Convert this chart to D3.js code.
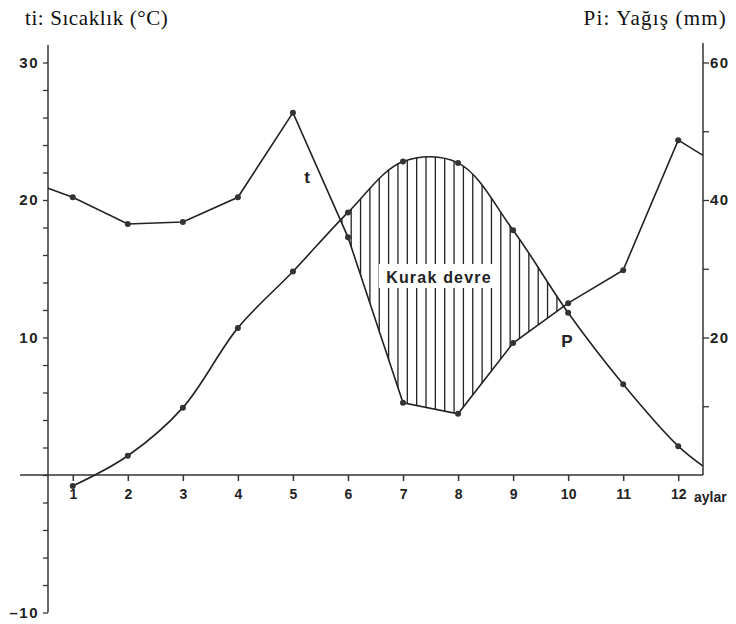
<!DOCTYPE html>
<html>
<head>
<meta charset="utf-8">
<script src="https://cdn.jsdelivr.net/npm/d3@7"></script>
<style>
  body { margin: 0; background: #fff; }
  svg { display: block; }
  .tick text { font-family: "Liberation Sans", Arial, sans-serif; fill: #222; font-weight: bold; }
  .domain, .tick line { stroke: #333; }
</style>
</head>
<body>
<svg width="736" height="624"></svg>
<script>
// months and edges of the plot (in month units)
const months = [1, 2, 3, 4, 5, 6, 7, 8, 9, 10, 11, 12];
const monthEdges = [0.55, 12.45];

// temperature, °C (smooth curve)
const tempC = [-0.8, 1.4, 4.9, 10.7, 14.8, 19.1, 22.8, 22.7, 17.8, 11.8, 6.6, 2.1];
const tempEndC = 0.65;

// precipitation, mm (broken line)
const rainMm = [40.4, 36.5, 36.8, 40.4, 52.7, 34.6, 10.5, 8.9, 19.2, 25.0, 29.8, 48.7];
const rainEdgesMm = [41.7, 46.5];

const leftTicks = [-10, -8, -6, -4, -2, 0, 2, 4, 6, 8, 10, 12, 14, 16, 18, 20, 22, 24, 26, 28, 30];
const leftLabels = [-10, 10, 20, 30];
const rightTicks = [10, 20, 30, 40, 50, 60];
const rightLabels = [20, 40, 60];

const svg = d3.select('svg');

const x = d3.scaleLinear().domain(monthEdges).range([48, 703]);
const yT = d3.scaleLinear().domain([-10, 30]).range([612.5, 62.5]);
const yP = d3.scaleLinear().domain([-20, 60]).range([612.5, 62.5]);

const tempPts = months.map((m, i) => [m, tempC[i]]).concat([[monthEdges[1], tempEndC]]);
const rainPts = [[monthEdges[0], rainEdgesMm[0]]]
  .concat(months.map((m, i) => [m, rainMm[i]]))
  .concat([[monthEdges[1], rainEdgesMm[1]]]);

// axes
svg.append('line')
  .attr('x1', 20).attr('x2', x(monthEdges[1]))
  .attr('y1', yT(0)).attr('y2', yT(0))
  .attr('stroke', '#333').attr('stroke-width', 1.5);

const xAxis = svg.append('g')
  .attr('transform', `translate(0,${yT(0)})`)
  .call(d3.axisBottom(x).tickValues(months).tickSize(6).tickPadding(8).tickFormat(d3.format('d')));
xAxis.select('.domain').remove();
xAxis.selectAll('.tick text').attr('font-size', 14);
xAxis.selectAll('.tick line').attr('stroke-width', 1.5);

svg.append('text')
  .attr('x', 694).attr('y', yT(0) + 27)
  .attr('font-family', '"Liberation Sans", Arial, sans-serif')
  .attr('font-size', 14).attr('font-weight', 'bold').attr('fill', '#222')
  .text('aylar');

const leftAxis = svg.append('g')
  .attr('transform', `translate(${x(monthEdges[0])},0)`)
  .call(d3.axisLeft(yT).tickValues(leftTicks).tickSize(5).tickSizeOuter(0)
    .tickFormat(d => leftLabels.includes(d) ? (d < 0 ? '\u2013' + (-d) : d) : ''));
leftAxis.select('.domain').attr('d', `M0,45V${yT(-10)}`).attr('stroke-width', 1.5);
leftAxis.selectAll('.tick text').attr('font-size', 15).attr('letter-spacing', 1.5).attr('dx', -1);
leftAxis.selectAll('.tick line').attr('stroke-width', 1.3);

const rightAxis = svg.append('g')
  .attr('transform', `translate(${x(monthEdges[1])},0)`)
  .call(d3.axisRight(yP).tickValues(rightTicks).tickSize(6).tickSizeOuter(0)
    .tickFormat(d => rightLabels.includes(d) ? d : ''));
rightAxis.select('.domain').attr('d', `M0,43V${yP(0)}`).attr('stroke-width', 1.5);
rightAxis.selectAll('.tick text').attr('font-size', 15).attr('letter-spacing', 1.5).attr('dx', -2);
rightAxis.selectAll('.tick line').attr('stroke-width', 1.3);

// hatched dry period: above the rain line, below the temperature line
const defs = svg.append('defs');
const tempCurve = d3.curveCatmullRom.alpha(0.5);

defs.append('clipPath').attr('id', 'belowTemp')
  .append('path')
  .attr('d', d3.area().curve(tempCurve).x(d => x(d[0])).y0(d => yT(d[1])).y1(700)(tempPts));
defs.append('clipPath').attr('id', 'aboveRain')
  .append('path')
  .attr('d', d3.area().x(d => x(d[0])).y0(0).y1(d => yP(d[1]))(rainPts));

const hatch = svg.append('g').attr('clip-path', 'url(#belowTemp)')
  .append('g').attr('clip-path', 'url(#aboveRain)');
hatch.selectAll('line')
  .data(d3.range(x(monthEdges[0]) + 4, x(monthEdges[1]), 9.35))
  .join('line')
  .attr('x1', d => d).attr('x2', d => d)
  .attr('y1', 40).attr('y2', 480)
  .attr('stroke', '#222').attr('stroke-width', 1.3);

// curves
svg.append('path')
  .attr('d', d3.line().x(d => x(d[0])).y(d => yP(d[1]))(rainPts))
  .attr('fill', 'none').attr('stroke', '#222').attr('stroke-width', 1.6);

svg.append('path')
  .attr('d', d3.line().curve(tempCurve).x(d => x(d[0])).y(d => yT(d[1]))(tempPts))
  .attr('fill', 'none').attr('stroke', '#222').attr('stroke-width', 1.6);

svg.append('g').selectAll('circle')
  .data(months.map((m, i) => [m, rainMm[i]]))
  .join('circle')
  .attr('cx', d => x(d[0])).attr('cy', d => yP(d[1])).attr('r', 3)
  .attr('fill', '#333');

svg.append('g').selectAll('circle')
  .data(months.map((m, i) => [m, tempC[i]]))
  .join('circle')
  .attr('cx', d => x(d[0])).attr('cy', d => yT(d[1])).attr('r', 3)
  .attr('fill', '#333');

// labels
svg.append('rect')
  .attr('x', 379).attr('y', 264).attr('width', 121).attr('height', 24)
  .attr('fill', '#fff');
svg.append('text')
  .attr('x', 439).attr('y', 283).attr('text-anchor', 'middle')
  .attr('font-family', '"Liberation Sans", Arial, sans-serif')
  .attr('font-size', 16).attr('font-weight', 'bold').attr('letter-spacing', 1.2).attr('fill', '#222')
  .text('Kurak devre');

svg.append('text')
  .attr('x', 307).attr('y', 183).attr('text-anchor', 'middle')
  .attr('font-family', '"Liberation Sans", Arial, sans-serif')
  .attr('font-size', 17).attr('font-weight', 'bold').attr('fill', '#222')
  .text('t');
svg.append('text')
  .attr('x', 567).attr('y', 347).attr('text-anchor', 'middle')
  .attr('font-family', '"Liberation Sans", Arial, sans-serif')
  .attr('font-size', 17).attr('font-weight', 'bold').attr('fill', '#222')
  .text('P');

svg.append('text')
  .attr('x', 25).attr('y', 25)
  .attr('font-family', '"Liberation Serif", "Times New Roman", serif')
  .attr('font-size', 21).attr('letter-spacing', 0.6).attr('fill', '#111')
  .text('ti: Sıcaklık (°C)');
svg.append('text')
  .attr('x', 727).attr('y', 25).attr('text-anchor', 'end')
  .attr('font-family', '"Liberation Serif", "Times New Roman", serif')
  .attr('font-size', 21).attr('letter-spacing', 1.2).attr('fill', '#111')
  .text('Pi: Yağış (mm)');
</script>
</body>
</html>
